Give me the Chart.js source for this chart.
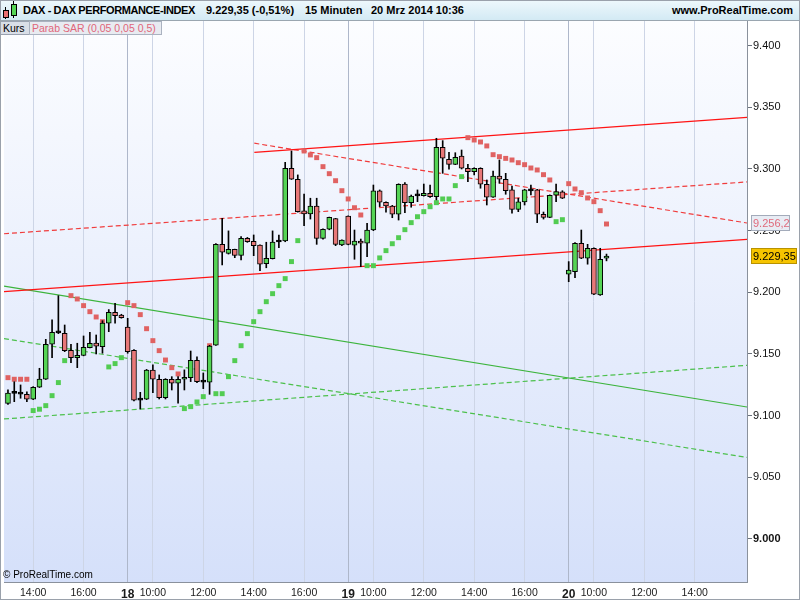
<!DOCTYPE html>
<html lang="de">
<head>
<meta charset="UTF-8">
<title>DAX - DAX PERFORMANCE-INDEX 15 Minuten</title>
<script src="https://cdn.jsdelivr.net/npm/chart.js"></script>
<style>
    html, body { margin: 0; padding: 0; background: #fff; }
    body { width: 800px; height: 600px; position: relative; overflow: hidden; font-family: "Liberation Sans", Arial, sans-serif; }
    #chart { position: absolute; left: 0; top: 0; }
    .frame { position: absolute; left: 0; top: 0; width: 798px; height: 598px; border: 1px solid #9aa1ab; pointer-events: none; }
    .header {
        position: absolute; left: 0; top: 0; width: 800px; height: 20px;
        background: linear-gradient(#eef8fc, #d3eaf4);
        border-bottom: 1px solid #9aa6b0;
        font-weight: bold; font-size: 11px; color: #000;
    }
    .header span { position: absolute; top: 4px; white-space: nowrap; }
    .icon { position: absolute; }
    .legend { position: absolute; top: 21px; height: 12px; font-size: 10.5px; line-height: 12px; white-space: nowrap; padding: 0 2px; }
    .copy { position: absolute; left: 3px; top: 569px; font-size: 10px; color: #000; }
</style>
</head>
<body>
<canvas id="chart" width="800" height="600"></canvas>

<div class="header">
    <!-- kleines Kerzen-Symbol -->
    <div class="icon" style="left:5px; top:7px; width:1px; height:12px; background:#000;"></div>
    <div class="icon" style="left:3px; top:10px; width:4px; height:6px; background:#e87070; border:1px solid #000;"></div>
    <div class="icon" style="left:13px; top:1px; width:1px; height:17px; background:#000;"></div>
    <div class="icon" style="left:11px; top:4px; width:4px; height:10px; background:#55d455; border:1px solid #000;"></div>
    <span id="title" style="left:23px; letter-spacing:-0.4px;"></span>
    <span id="lastPrice" style="left:206px;"></span>
    <span id="period" style="left:305px;"></span>
    <span id="stamp" style="left:371px;"></span>
    <span style="right:7px;">www.ProRealTime.com</span>
</div>
<div class="legend" style="left:0; width:24px; background:#d9dee7; border:1px solid #9aa2b0; color:#000;">Kurs</div>
<div class="legend" style="left:29px; width:127px; background:#e8ebf1; border:1px solid #aab2c0; color:#e0667a;">Parab SAR (0,05 0,05 0,5)</div>
<div class="copy">© ProRealTime.com</div>
<div class="frame"></div>

<script>
    // 15-Minuten-Kerzen, Index 0 = 17.03. 13:00 ... Index 95 = 20.03. 10:30
    const opens = [
        9110.0, 9118.0, 9118.0, 9117.3, 9113.3, 9123.0, 9129.5, 9157.9, 9167.8, 9166.8,
        9153.0, 9147.0, 9148.9, 9155.1, 9158.9, 9156.0, 9175.0, 9183.8, 9181.6, 9171.9,
        9153.0, 9113.4, 9113.3, 9137.0, 9129.5, 9114.6, 9129.5, 9126.3, 9129.5, 9130.8,
        9144.9, 9127.8, 9127.1, 9157.1, 9238.9, 9231.6, 9234.9, 9230.0, 9243.8, 9241.4,
        9238.4, 9223.3, 9227.3, 9241.3, 9241.6, 9300.6, 9291.7, 9266.0, 9263.5, 9270.0,
        9243.8, 9251.1, 9259.7, 9238.4, 9261.9, 9238.2, 9241.6, 9239.8, 9250.5, 9282.2,
        9273.0, 9270.0, 9263.3, 9287.8, 9272.7, 9278.6, 9278.4, 9280.3, 9277.6, 9317.6,
        9307.9, 9303.8, 9310.5, 9300.6, 9297.8, 9300.6, 9287.6, 9277.1, 9294.3, 9291.7,
        9283.0, 9267.3, 9273.3, 9282.8, 9283.0, 9263.3, 9260.8, 9278.7, 9281.4, 9214.7,
        9216.8, 9239.8, 9227.6, 9235.7, 9197.8, 9227.6
    ];
    const highs = [
        9121.0, 9127.5, 9124.9, 9119.4, 9123.5, 9138.4, 9161.9, 9177.6, 9197.3, 9173.5,
        9157.9, 9158.7, 9164.6, 9167.6, 9165.4, 9177.0, 9186.0, 9191.1, 9182.2, 9178.9,
        9153.5, 9118.9, 9137.5, 9141.1, 9133.0, 9130.0, 9131.6, 9131.6, 9137.1, 9152.4,
        9147.6, 9134.6, 9157.0, 9239.5, 9260.0, 9249.8, 9235.0, 9245.1, 9244.5, 9246.5,
        9238.5, 9240.6, 9249.8, 9246.5, 9305.4, 9314.6, 9295.2, 9279.7, 9276.3, 9276.3,
        9251.5, 9261.0, 9260.0, 9242.5, 9262.0, 9250.5, 9243.2, 9256.0, 9287.0, 9283.0,
        9273.3, 9270.5, 9288.0, 9288.9, 9278.9, 9283.0, 9287.8, 9287.0, 9324.9, 9323.0,
        9313.5, 9313.2, 9315.4, 9303.8, 9301.0, 9301.0, 9291.1, 9298.4, 9307.3, 9296.5,
        9286.2, 9276.3, 9283.5, 9287.0, 9283.5, 9265.1, 9279.0, 9287.8, 9282.4, 9224.9,
        9240.3, 9250.5, 9238.9, 9236.0, 9235.7, 9231.0
    ];
    const lows = [
        9109.0, 9111.3, 9114.1, 9111.3, 9113.0, 9122.8, 9129.3, 9147.0, 9166.5, 9151.9,
        9142.9, 9138.9, 9148.5, 9155.0, 9150.0, 9150.6, 9168.1, 9174.9, 9179.0, 9150.6,
        9112.0, 9105.4, 9113.0, 9118.6, 9113.5, 9113.5, 9120.8, 9110.1, 9120.8, 9127.6,
        9126.8, 9121.9, 9117.3, 9157.0, 9222.2, 9231.0, 9228.1, 9226.2, 9240.5, 9229.7,
        9217.6, 9219.9, 9227.0, 9236.2, 9241.0, 9291.5, 9265.0, 9254.0, 9259.4, 9238.9,
        9243.0, 9250.7, 9237.8, 9237.8, 9238.5, 9226.8, 9220.8, 9228.9, 9250.0, 9269.5,
        9264.9, 9260.5, 9258.6, 9264.6, 9269.0, 9273.5, 9278.0, 9277.0, 9274.9, 9296.5,
        9299.8, 9303.5, 9300.0, 9289.7, 9295.2, 9284.4, 9270.8, 9277.0, 9288.4, 9279.5,
        9264.1, 9265.4, 9270.8, 9278.9, 9256.5, 9259.4, 9260.5, 9273.5, 9276.0, 9208.6,
        9211.9, 9227.3, 9222.8, 9198.0, 9197.5, 9225.5
    ];
    const closes = [
        9118.2, 9118.6, 9117.4, 9113.3, 9123.0, 9129.7, 9157.9, 9167.6, 9167.1, 9152.7,
        9147.0, 9148.9, 9155.4, 9158.7, 9156.3, 9175.0, 9183.8, 9181.1, 9179.5, 9151.9,
        9112.5, 9112.6, 9137.0, 9129.5, 9114.6, 9129.5, 9126.3, 9129.5, 9131.0, 9144.9,
        9127.6, 9127.2, 9156.5, 9238.9, 9232.5, 9234.9, 9230.0, 9243.8, 9241.1, 9237.8,
        9222.8, 9227.6, 9240.8, 9240.8, 9300.6, 9291.7, 9265.4, 9263.5, 9270.0, 9243.8,
        9251.1, 9260.8, 9238.9, 9242.4, 9238.9, 9241.6, 9239.8, 9250.5, 9282.2, 9273.0,
        9270.0, 9263.3, 9287.6, 9272.7, 9278.1, 9278.2, 9280.3, 9277.6, 9317.6, 9308.7,
        9303.8, 9309.5, 9300.6, 9297.8, 9300.6, 9287.6, 9277.1, 9294.3, 9291.7, 9282.4,
        9267.3, 9273.3, 9283.0, 9282.2, 9263.3, 9260.8, 9278.7, 9281.6, 9276.3, 9218.1,
        9239.8, 9227.6, 9235.7, 9198.4, 9226.8, 9229.35
    ];

    // Parabolic SAR: ueber dem Kurs (rot) bzw. unter dem Kurs (gruen), null = keine Marke
    const sarAbove = [
        9130.8, 9129.5, 9129.5, 9129.5, null, null, null, null, null, null,
        9197.3, 9194.6, 9189.2, 9184.3, 9180.0, 9176.2, null, null, null, 9191.6,
        9189.2, 9181.9, 9170.5, 9160.8, 9152.7, 9145.1, 9138.9, 9133.8, null, null,
        null, null, 9156.7, null, null, null, null, null, null, null,
        null, null, null, null, null, null, null, 9314.6, 9311.4, 9309.2,
        9301.9, 9296.2, 9290.5, 9282.4, 9275.7, 9268.6, 9262.7, null, null, null,
        null, null, null, null, null, null, null, null, null, null,
        null, null, null, 9325.4, 9323.5, 9321.9, 9318.7, 9311.6, 9310.0, 9308.6,
        9307.3, 9305.1, 9303.5, 9300.8, 9299.2, 9295.4, 9291.1, null, null, 9288.1,
        9283.8, 9280.8, 9276.5, 9273.5, 9266.2, 9255.4
    ];
    const sarBelow = [
        null, null, null, null, 9104.1, 9105.2, 9108.1, 9116.2, 9126.8, 9144.6,
        null, null, null, null, null, null, 9139.5, 9142.2, 9147.0, null,
        null, null, null, null, null, null, null, null, 9105.7, 9107.3,
        9111.1, 9115.4, null, 9117.8, 9117.8, 9131.6, 9144.6, 9156.7, 9166.5, 9176.2,
        9184.3, 9192.4, 9198.9, 9205.4, 9211.1, 9224.9, 9241.9, null, null, null,
        null, null, null, null, null, null, null, 9221.6, 9221.6, 9227.9,
        9233.8, 9239.4, 9244.3, 9250.8, 9256.5, 9261.3, 9265.4, 9269.4, 9272.7, 9275.7,
        9275.7, 9286.5, 9293.8, null, null, null, null, null, null, null,
        null, null, null, null, null, null, null, 9257.3, 9258.9, null,
        null, null, null, null, null, null
    ];

    // Trendlinien: Start-/Endpunkt als [Index, Kurs]
    const redUpper = [[39.1, 9313.5], [117.3, 9341.9]];
    const redLower = [[-0.63, 9200.6], [117.3, 9243.0]];
    const redFalling = [[39.1, 9320.9], [117.3, 9256.2]];
    const redRising = [[-0.63, 9247.5], [117.3, 9289.5]];
    const greenFalling = [[-0.63, 9205.0], [117.3, 9107.0]];
    const greenFallingDash = [[-0.63, 9162.5], [117.3, 9066.1]];
    const greenRisingDash = [[-0.63, 9097.3], [117.3, 9140.8]];

    // Zeitachse
    const tickSlots = [4, 12, 19, 23, 31, 39, 47, 54, 58, 66, 74, 82, 89, 93, 101, 109];
    const tickLabels = ['14:00', '16:00', '18', '10:00', '12:00', '14:00', '16:00', '19', '10:00', '12:00', '14:00', '16:00', '20', '10:00', '12:00', '14:00'];
    const daySlots = [19, 54, 89];
    const priceTicks = [9000, 9050, 9100, 9150, 9200, 9250, 9300, 9350, 9400];

    const titleText = 'DAX - DAX PERFORMANCE-INDEX';
    const lastText = '9.229,35 (-0,51%)';
    const periodText = '15 Minuten';
    const stampText = '20 Mrz 2014 10:36';
    const lastValue = 9229.35;
    const trendMarkValue = 9256.2;

    document.getElementById('title').textContent = titleText;
    document.getElementById('lastPrice').textContent = lastText;
    document.getElementById('period').textContent = periodText;
    document.getElementById('stamp').textContent = stampText;

    const fmtPrice = v => Math.floor(v / 1000) + '.' + String(Math.round(v % 1000)).padStart(3, '0');
    const fmtDe = (v, d) => {
        const s = v.toFixed(d).split('.');
        return Math.floor(v / 1000) + '.' + s[0].slice(-3) + ',' + s[1];
    };

    const idx = opens.map((_, i) => i);
    const green = '#55d455', red = '#e87878';

    const toLine = (pts) => pts.map(p => ({ x: p[0], y: p[1] }));
    const trend = (pts, color, dash) => ({
        type: 'line',
        data: toLine(pts),
        borderColor: color,
        borderWidth: 1.2,
        borderDash: dash || [],
        pointRadius: 0,
        order: 6
    });

    // Hintergrund mit Verlauf
    const bgPlugin = {
        id: 'bg',
        beforeDraw(chart) {
            const { ctx, chartArea: a } = chart;
            ctx.save();
            ctx.fillStyle = '#fff';
            ctx.fillRect(0, 0, chart.width, chart.height);
            const g = ctx.createLinearGradient(0, a.top, 0, a.bottom);
            g.addColorStop(0, '#fcfdff');
            g.addColorStop(1, '#d5e0fa');
            ctx.fillStyle = g;
            ctx.fillRect(a.left, a.top, a.right - a.left, a.bottom - a.top);
            ctx.restore();
        }
    };

    // Kursmarken an der rechten Achse
    const markPlugin = {
        id: 'marks',
        afterDraw(chart) {
            const { ctx } = chart;
            const y = chart.scales.y;
            const x0 = chart.chartArea.right + 4;
            ctx.save();
            ctx.font = '11px "Liberation Sans", Arial, sans-serif';
            ctx.textBaseline = 'middle';

            let py = Math.round(y.getPixelForValue(trendMarkValue));
            ctx.fillStyle = '#e8ecf4';
            ctx.fillRect(x0 + 0.5, py - 7.5, 38, 15);
            ctx.strokeStyle = '#a3abba';
            ctx.strokeRect(x0 + 0.5, py - 7.5, 38, 15);
            ctx.fillStyle = '#e06a7c';
            ctx.fillText(fmtDe(trendMarkValue, 1), x0 + 2, py + 0.5);

            py = Math.round(y.getPixelForValue(lastValue));
            ctx.fillStyle = '#f6c400';
            ctx.fillRect(x0 + 0.5, py - 7.5, 45, 15);
            ctx.strokeStyle = '#b89200';
            ctx.strokeRect(x0 + 0.5, py - 7.5, 45, 15);
            ctx.fillStyle = '#000';
            ctx.fillText(fmtDe(lastValue, 2), x0 + 2, py + 0.5);
            ctx.restore();
        }
    };

    const chart = new Chart(document.getElementById('chart').getContext('2d'), {
        type: 'bar',
        data: {
            datasets: [
                {
                    label: 'Kurs',
                    data: idx.map(i => ({ x: i, y: [opens[i], closes[i]] })),
                    backgroundColor: ctx => {
                        const i = ctx.dataIndex;
                        if (Math.abs(closes[i] - opens[i]) < 1) return '#000';
                        return closes[i] >= opens[i] ? green : red;
                    },
                    borderColor: '#000',
                    borderWidth: 1,
                    borderSkipped: false,
                    barThickness: 5,
                    minBarLength: 2,
                    grouped: false,
                    order: 2
                },
                {
                    label: 'Docht',
                    data: idx.map(i => ({ x: i, y: [lows[i], highs[i]] })),
                    backgroundColor: '#000',
                    barThickness: 1,
                    grouped: false,
                    order: 3
                },
                {
                    type: 'scatter',
                    label: 'SAR oben',
                    data: idx.map(i => ({ x: i, y: sarAbove[i] })),
                    pointStyle: 'rect',
                    pointRadius: 3.5,
                    backgroundColor: '#e06262',
                    borderWidth: 0,
                    order: 4
                },
                {
                    type: 'scatter',
                    label: 'SAR unten',
                    data: idx.map(i => ({ x: i, y: sarBelow[i] })),
                    pointStyle: 'rect',
                    pointRadius: 3.5,
                    backgroundColor: '#52cc52',
                    borderWidth: 0,
                    order: 4
                },
                trend(redUpper, '#ff1414'),
                trend(redLower, '#ff1414'),
                trend(redFalling, '#f03c3c', [5, 3]),
                trend(redRising, '#f03c3c', [5, 3]),
                trend(greenFalling, '#3cb43c'),
                trend(greenFallingDash, '#4cc04c', [5, 3]),
                trend(greenRisingDash, '#4cc04c', [5, 3])
            ]
        },
        options: {
            responsive: false,
            animation: false,
            events: [],
            layout: { padding: { top: 21, left: 1, right: 0, bottom: 0 } },
            plugins: {
                legend: { display: false },
                tooltip: { enabled: false }
            },
            scales: {
                x: {
                    type: 'linear',
                    min: -0.63,
                    max: 117.3,
                    offset: false,
                    afterBuildTicks: s => { s.ticks = tickSlots.map(v => ({ value: v })); },
                    afterFit: s => { s.height = 18; },
                    ticks: {
                        autoSkip: false,
                        maxRotation: 0,
                        padding: 5,
                        color: '#1a1a1a',
                        callback: (v, i) => tickLabels[i],
                        font: ctx => daySlots.includes(ctx.tick && ctx.tick.value)
                            ? { family: '"Liberation Sans", Arial, sans-serif', size: 12, weight: 'bold' }
                            : { family: '"Liberation Sans", Arial, sans-serif', size: 10.5 }
                    },
                    grid: {
                        offset: false,
                        drawTicks: false,
                        color: ctx => daySlots.includes(ctx.tick && ctx.tick.value) ? '#aeb7ca' : '#cdd5e6'
                    },
                    border: { color: '#8a919c' }
                },
                y: {
                    position: 'right',
                    min: 8965.1,
                    max: 9420.0,
                    afterBuildTicks: s => { s.ticks = priceTicks.map(v => ({ value: v })); },
                    afterFit: s => { s.width = 53; },
                    ticks: {
                        padding: 1,
                        color: '#111',
                        callback: v => fmtPrice(v),
                        font: ctx => (ctx.tick && ctx.tick.value % 1000 === 0)
                            ? { family: '"Liberation Sans", Arial, sans-serif', size: 11, weight: 'bold' }
                            : { family: '"Liberation Sans", Arial, sans-serif', size: 11 }
                    },
                    grid: { drawOnChartArea: false, tickLength: 5, color: '#6a717c' },
                    border: { color: '#8a919c' }
                }
            }
        },
        plugins: [bgPlugin, markPlugin]
    });
</script>
</body>
</html>
